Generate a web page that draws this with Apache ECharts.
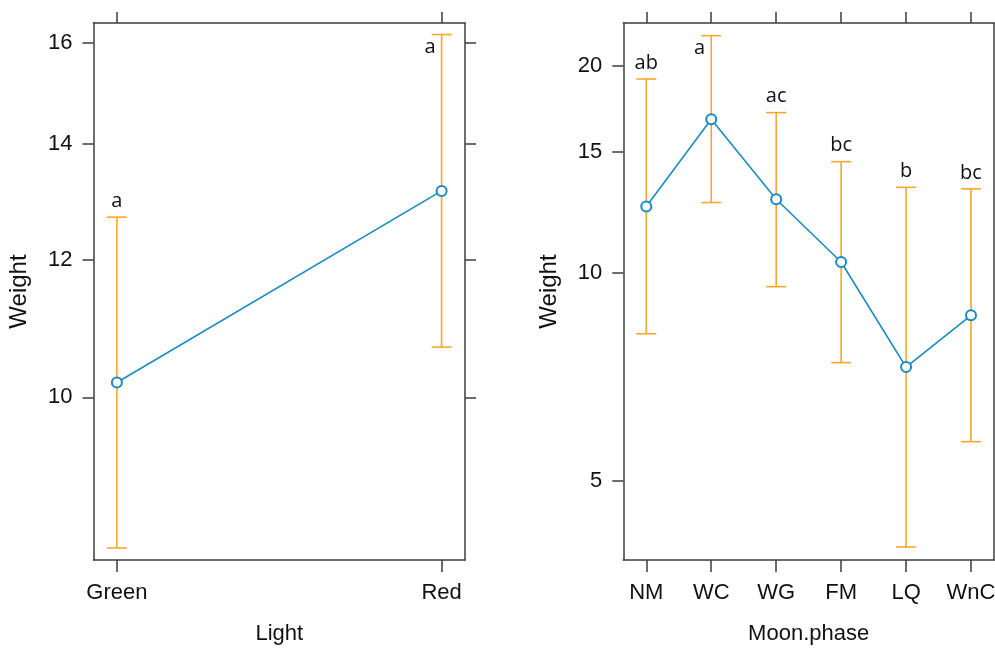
<!DOCTYPE html>
<html>
<head>
<meta charset="utf-8">
<script src="https://cdn.jsdelivr.net/npm/echarts@6/dist/echarts.min.js"></script>
<style>
  html, body { margin: 0; padding: 0; background: #fff; }
  #chart { width: 995px; height: 648px; }
</style>
</head>
<body>
<div id="chart"></div>
<script>
// Effect of light colour on weight (log scale)
const lightCats = ['Green', 'Red'];
const lightFit = [10.20, 13.15];
const lightLower = [8.19, 10.69];
const lightUpper = [12.70, 16.18];
const lightLetters = ['a', 'a'];
const lightTicks = [10, 12, 14, 16];
const lightRange = [8.06, 16.43];

// Effect of moon phase on weight (log scale)
const moonCats = ['NM', 'WC', 'WG', 'FM', 'LQ', 'WnC'];
const moonFit = [12.49, 16.72, 12.80, 10.38, 7.31, 8.69];
const moonLower = [8.17, 12.66, 9.56, 7.42, 4.01, 5.70];
const moonUpper = [19.12, 22.10, 17.09, 14.51, 13.32, 13.25];
const moonLetters = ['ab', 'a', 'ac', 'bc', 'b', 'bc'];
const moonTicks = [5, 10, 15, 20];
const moonRange = [3.84, 23.05];

const BLUE = '#1a8ac4';
const ORANGE = '#f7a82a';
const FRAME = '#3c3c3c';
const TEXT = '#111';
const FONT = "'Liberation Sans', Arial, sans-serif";
const LETTER_FONT = "'Open Sans', sans-serif";
const lg = Math.log10;

function panel(gi, cats, fit, lower, upper, letters, ticks, range, xPad, xName, rightTicks) {
  const idx = cats.map((_, i) => i);
  const yTicks = ticks.map(lg);
  const axisLine = { show: true, onZero: false, lineStyle: { color: FRAME, width: 1.5 } };
  const tickStyle = { color: FRAME, width: 1.5 };
  const xBase = {
    type: 'value', gridIndex: gi, min: -xPad, max: cats.length - 1 + xPad,
    axisLine, splitLine: { show: false }
  };
  const yBase = {
    type: 'value', gridIndex: gi, min: lg(range[0]), max: lg(range[1]),
    axisLine, splitLine: { show: false }
  };
  const xAxes = [
    Object.assign({}, xBase, {
      position: 'bottom',
      axisTick: { show: true, length: 12, customValues: idx, lineStyle: tickStyle },
      axisLabel: {
        customValues: idx, margin: 22, color: TEXT, fontSize: 22, fontFamily: FONT,
        formatter: v => cats[Math.round(v)]
      },
      name: xName, nameLocation: 'middle', nameGap: 63,
      nameTextStyle: { color: TEXT, fontSize: 22, fontFamily: FONT }
    }),
    Object.assign({}, xBase, {
      position: 'top',
      axisTick: { show: true, length: 11, customValues: idx, lineStyle: tickStyle },
      axisLabel: { show: false }
    })
  ];
  const yAxes = [
    Object.assign({}, yBase, {
      position: 'left',
      axisTick: { show: true, length: 11, customValues: yTicks, lineStyle: tickStyle },
      axisLabel: {
        customValues: yTicks, margin: 21, color: TEXT, fontSize: 22, fontFamily: FONT,
        formatter: v => String(Math.round(Math.pow(10, v)))
      },
      name: 'Weight', nameLocation: 'middle', nameGap: 62,
      nameTextStyle: { color: TEXT, fontSize: 24, fontFamily: FONT }
    }),
    Object.assign({}, yBase, {
      position: 'right',
      axisTick: { show: rightTicks, length: 11, customValues: yTicks, lineStyle: tickStyle },
      axisLabel: { show: false }
    })
  ];

  const bars = {
    type: 'custom', xAxisIndex: gi * 2, yAxisIndex: gi * 2, z: 2, clip: false,
    data: idx.map(i => [i, lg(lower[i]), lg(upper[i])]),
    renderItem(params, api) {
      const x = api.value(0);
      const pLo = api.coord([x, api.value(1)]);
      const pHi = api.coord([x, api.value(2)]);
      const half = 10;
      const st = { stroke: ORANGE, lineWidth: 1.6 };
      const top = params.coordSys.y;
      const letter = letters[params.dataIndex];
      // letters that would cross the frame sit beside the bar, under its cap
      const crowded = pHi[1] - 26 < top;
      const label = crowded
        ? { type: 'text', x: pHi[0] - 6, y: pHi[1] + 13,
            style: { text: letter, fill: TEXT, fontSize: 20, fontFamily: LETTER_FONT,
                     align: 'right', verticalAlign: 'middle' } }
        : { type: 'text', x: pHi[0], y: pHi[1] - 16,
            style: { text: letter, fill: TEXT, fontSize: 20, fontFamily: LETTER_FONT,
                     align: 'center', verticalAlign: 'middle' } };
      return {
        type: 'group',
        children: [
          { type: 'line', shape: { x1: pLo[0], y1: pLo[1], x2: pHi[0], y2: pHi[1] }, style: st },
          { type: 'line', shape: { x1: pHi[0] - half, y1: pHi[1], x2: pHi[0] + half, y2: pHi[1] }, style: st },
          { type: 'line', shape: { x1: pLo[0] - half, y1: pLo[1], x2: pLo[0] + half, y2: pLo[1] }, style: st },
          label
        ]
      };
    }
  };
  const line = {
    type: 'line', xAxisIndex: gi * 2, yAxisIndex: gi * 2, z: 3,
    data: idx.map(i => [i, lg(fit[i])]),
    symbol: 'emptyCircle', symbolSize: 10, showSymbol: true,
    lineStyle: { color: BLUE, width: 1.6 },
    itemStyle: { color: BLUE, borderColor: BLUE, borderWidth: 1.5 },
    emphasis: { disabled: true }
  };
  return { xAxes, yAxes, series: [bars, line] };
}

const pL = panel(0, lightCats, lightFit, lightLower, lightUpper, lightLetters, lightTicks, lightRange, 0.072, 'Light', true);
const pR = panel(1, moonCats, moonFit, moonLower, moonUpper, moonLetters, moonTicks, moonRange, 0.354, 'Moon.phase', false);

const chart = echarts.init(document.getElementById('chart'), null, { renderer: 'canvas' });
chart.setOption({
  animation: false,
  backgroundColor: '#fff',
  grid: [
    { left: 93.5, right: 530, top: 23, bottom: 88, containLabel: false, outerBoundsMode: 'none' },
    { left: 623.3, right: 1, top: 23, bottom: 88, containLabel: false, outerBoundsMode: 'none' }
  ],
  xAxis: pL.xAxes.concat(pR.xAxes),
  yAxis: pL.yAxes.concat(pR.yAxes),
  series: pL.series.concat(pR.series)
});
</script>
</body>
</html>
